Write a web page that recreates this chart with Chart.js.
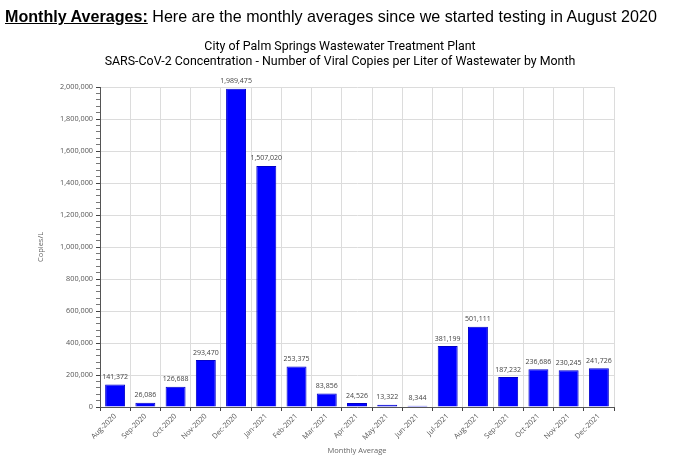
<!DOCTYPE html>
<html lang="en">
<head>
    <meta charset="UTF-8">
    <script src="https://cdn.jsdelivr.net/npm/chart.js"></script>
    <title>Monthly Averages</title>
    <style>
        body { margin: 0; background: #fff; }
        .cabecalho {
            position: absolute; left: 5px; top: 7px;
            font-family: "Liberation Sans", Arial, sans-serif;
            font-size: 16.1px; color: #000; white-space: nowrap;
        }
        .cabecalho b { text-decoration: underline; }
        .titulo {
            position: absolute; left: 0; top: 38px; width: 680px;
            text-align: center; font-family: Roboto, sans-serif;
            font-size: 12.4px; line-height: 15px; color: #000;
        }
        .grafico { position: absolute; left: 0; top: 0; width: 680px; height: 472px; }
    </style>
</head>
<body>
    <div class="grafico">
        <canvas id="estatisticas" width="680" height="472"></canvas>
    </div>
    <div class="cabecalho"><b>Monthly Averages:</b> Here are the monthly averages since we started testing in August 2020</div>
    <div class="titulo" id="titulo"></div>
<script>
    // dados
    const meses = ['Aug-2020', 'Sep-2020', 'Oct-2020', 'Nov-2020', 'Dec-2020', 'Jan-2021', 'Feb-2021',
        'Mar-2021', 'Apr-2021', 'May-2021', 'Jun-2021', 'Jul-2021', 'Aug-2021', 'Sep-2021',
        'Oct-2021', 'Nov-2021', 'Dec-2021'];
    const copias = [141372, 26086, 126688, 293470, 1989475, 1507020, 253375,
        83856, 24526, 13322, 8344, 381199, 501111, 187232,
        236686, 230245, 241726];
    const titulo = ['City of Palm Springs Wastewater Treatment Plant',
        'SARS-CoV-2 Concentration - Number of Viral Copies per Liter of Wastewater by Month'];
    const yMax = 2000000;
    const yPassoMaior = 200000;
    const yPassoMenor = 40000;

    document.getElementById('titulo').innerHTML = titulo.join('<br>');

    const fonteEixo = '"Open Sans", "DejaVu Sans", sans-serif';

    // escreve o valor em cima de cada barra
    const rotulosBarras = {
        id: 'rotulosBarras',
        afterDatasetsDraw(chart) {
            const ctx = chart.ctx;
            ctx.save();
            ctx.font = '7px ' + fonteEixo;
            ctx.fillStyle = '#444';
            ctx.textAlign = 'center';
            ctx.textBaseline = 'bottom';
            chart.getDatasetMeta(0).data.forEach((barra, i) => {
                ctx.fillText(copias[i].toLocaleString('en-US'), barra.x, barra.y - 4);
            });
            ctx.restore();
        }
    };

    const ehMaior = (v) => v % yPassoMaior === 0;

    new Chart(document.getElementById('estatisticas'), {
        type: 'bar',
        data: {
            labels: meses,
            datasets: [{
                label: 'Copies/L',
                data: copias,
                backgroundColor: '#0000ff',
                borderColor: '#0000c8',
                borderWidth: 1,
                barPercentage: 0.66,
                categoryPercentage: 1
            }]
        },
        options: {
            responsive: false,
            animation: false,
            layout: { padding: { left: 0, right: 66, top: 87, bottom: 0 } },
            plugins: {
                legend: { display: false },
                tooltip: { enabled: false }
            },
            scales: {
                x: {
                    afterFit(scale) { scale.height = 65; },
                    grid: {
                        offset: true,
                        color: '#dcdcdc',
                        tickColor: '#444',
                        tickLength: 4
                    },
                    border: { color: '#555', width: 1 },
                    ticks: {
                        autoSkip: false,
                        maxRotation: 45,
                        minRotation: 45,
                        padding: 1,
                        color: '#555',
                        font: { family: fonteEixo, size: 7.3 }
                    },
                    title: {
                        display: true,
                        text: 'Monthly Average',
                        color: '#666',
                        font: { family: fonteEixo, size: 7.5 },
                        padding: { top: 0, bottom: 17 }
                    }
                },
                y: {
                    min: 0,
                    max: yMax,
                    afterFit(scale) { scale.width = 100; },
                    grid: {
                        color: (c) => ehMaior(c.tick.value) ? '#dcdcdc' : 'rgba(0,0,0,0)',
                        tickColor: (c) => ehMaior(c.tick.value) ? '#444' : '#777',
                        tickLength: 4
                    },
                    border: { color: '#555', width: 1 },
                    ticks: {
                        stepSize: yPassoMenor,
                        autoSkip: false,
                        padding: 3,
                        color: '#555',
                        font: { family: fonteEixo, size: 7.3 },
                        callback: (v) => ehMaior(v) ? v.toLocaleString('en-US') : ''
                    },
                    title: {
                        display: true,
                        text: 'Copies/L',
                        color: '#666',
                        font: { family: fonteEixo, size: 7.5 },
                        padding: { top: 36, bottom: 0 }
                    }
                }
            }
        },
        plugins: [rotulosBarras]
    });
</script>
</body>
</html>
